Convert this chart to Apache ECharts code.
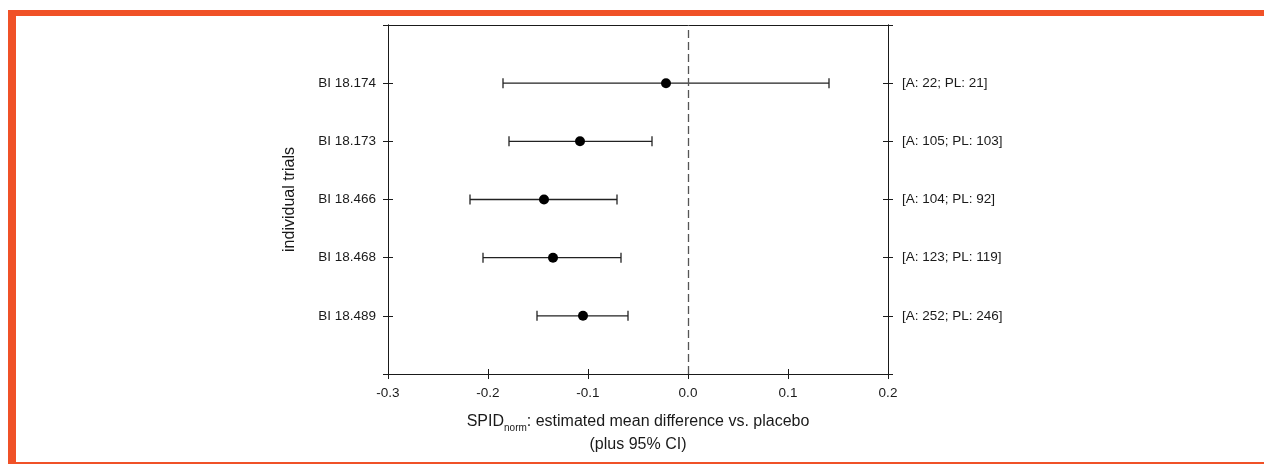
<!DOCTYPE html>
<html lang="en">
<head>
<meta charset="UTF-8">
<title>Forest plot</title>
<script src="https://cdn.jsdelivr.net/npm/echarts@6/dist/echarts.min.js"></script>
<style>
  html, body { margin: 0; padding: 0; background: #fff; }
  #chart { width: 1264px; height: 464px; }
</style>
</head>
<body>
<div id="chart"></div>
<script>
// trials from top to bottom
var trials = ['BI 18.174', 'BI 18.173', 'BI 18.466', 'BI 18.468', 'BI 18.489'];
var counts = ['[A: 22; PL: 21]', '[A: 105; PL: 103]', '[A: 104; PL: 92]', '[A: 123; PL: 119]', '[A: 252; PL: 246]'];
var estimates = [-0.022, -0.108, -0.144, -0.135, -0.105];
var lower = [-0.185, -0.179, -0.218, -0.205, -0.151];
var upper = [0.141, -0.036, -0.071, -0.067, -0.060];
var xTicks = [-0.3, -0.2, -0.1, 0.0, 0.1, 0.2];

var font = 'Liberation Sans, Arial, sans-serif';
var ink = '#1a1a1a';
var n = trials.length;

// row i sits at y = n - i (axis runs 0..n+1)
var ciData = [], pointData = [];
for (var i = 0; i < n; i++) {
    ciData.push([n - i, lower[i], upper[i]]);
    pointData.push([estimates[i], n - i]);
}

function rowLabel(list) {
    return function (v) {
        var idx = n - Math.round(v);
        return (idx >= 0 && idx < n) ? list[idx] : '';
    };
}

function yAx(pos, inside, labels) {
    return {
        type: 'value', position: pos, min: 0, max: n + 1, interval: 1,
        axisLine: { show: true, onZero: false, lineStyle: { color: ink, width: 1 } },
        axisTick: { show: true, inside: inside, length: 5, lineStyle: { color: ink } },
        axisLabel: labels ? {
            show: true, margin: pos === 'left' ? 12 : 14, color: ink,
            fontFamily: font, fontSize: 13.5, formatter: rowLabel(labels)
        } : { show: false },
        splitLine: { show: false }
    };
}

function xAx(pos, ticks, inside, labels) {
    return {
        type: 'value', position: pos, min: xTicks[0], max: xTicks[xTicks.length - 1], interval: 0.1,
        axisLine: { show: true, onZero: false, lineStyle: { color: ink, width: 1 } },
        axisTick: { show: ticks, inside: inside, length: 5, lineStyle: { color: ink } },
        axisLabel: labels ? {
            show: true, margin: 12, color: ink, fontFamily: font, fontSize: 13.5,
            formatter: function (v) { return v.toFixed(1); }
        } : { show: false },
        splitLine: { show: false }
    };
}

var xMain = xAx('bottom', true, false, true);
xMain.name = '{a|SPID}{s|norm}{a|: estimated mean difference vs. placebo}\n{a|(plus 95% CI)}';
xMain.nameLocation = 'middle';
xMain.nameGap = 36;
xMain.nameTextStyle = {
    color: ink, fontFamily: font, lineHeight: 23,
    rich: {
        a: { fontSize: 16, color: ink, fontFamily: font, lineHeight: 23 },
        s: { fontSize: 10, color: ink, fontFamily: font, verticalAlign: 'bottom', lineHeight: 12 }
    }
};

var yMain = yAx('left', false, trials);
yMain.name = 'individual trials';
yMain.nameLocation = 'middle';
yMain.nameGap = 90;
yMain.nameTextStyle = { color: ink, fontFamily: font, fontSize: 16 };

var chart = echarts.init(document.getElementById('chart'), null, { renderer: 'canvas' });

chart.setOption({
    backgroundColor: '#fff',
    animation: false,
    grid: { left: 388, right: 376, top: 25, bottom: 90, containLabel: false },
    graphic: [
        { type: 'rect', shape: { x: 8, y: 10, width: 1256, height: 6 }, style: { fill: '#f05127' } },
        { type: 'rect', shape: { x: 8, y: 10, width: 8, height: 454 }, style: { fill: '#f05127' } },
        { type: 'rect', shape: { x: 8, y: 462, width: 1256, height: 2 }, style: { fill: '#f05127' } }
    ],
    xAxis: [
        xMain,
        xAx('bottom', true, true, false),
        xAx('top', false, false, false)
    ],
    yAxis: [
        yMain,
        yAx('left', true, null),
        yAx('right', false, counts),
        yAx('right', true, null)
    ],
    series: [
        {
            type: 'custom',
            xAxisIndex: 0, yAxisIndex: 0,
            data: ciData,
            encode: { x: [1, 2], y: 0 },
            renderItem: function (params, api) {
                var a = api.coord([api.value(1), api.value(0)]);
                var b = api.coord([api.value(2), api.value(0)]);
                var cap = 5;
                var st = { stroke: '#222', lineWidth: 1.3 };
                return {
                    type: 'group',
                    children: [
                        { type: 'line', shape: { x1: a[0], y1: a[1], x2: b[0], y2: b[1] }, style: st },
                        { type: 'line', shape: { x1: a[0], y1: a[1] - cap, x2: a[0], y2: a[1] + cap }, style: st },
                        { type: 'line', shape: { x1: b[0], y1: b[1] - cap, x2: b[0], y2: b[1] + cap }, style: st }
                    ]
                };
            }
        },
        {
            type: 'scatter',
            xAxisIndex: 0, yAxisIndex: 0,
            data: pointData,
            symbol: 'circle',
            symbolSize: 10,
            itemStyle: { color: '#000', opacity: 1 },
            z: 3,
            markLine: {
                silent: true,
                symbol: ['none', 'none'],
                label: { show: false },
                lineStyle: { color: '#555', type: [8, 4], width: 1.3 },
                data: [{ xAxis: 0 }]
            }
        }
    ]
});
</script>
</body>
</html>
